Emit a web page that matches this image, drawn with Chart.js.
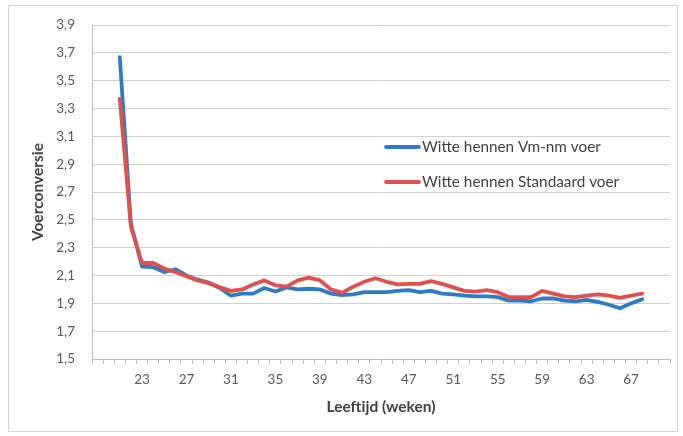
<!DOCTYPE html>
<html>
<head>
<meta charset="utf-8">
<script src="https://cdn.jsdelivr.net/npm/chart.js@4/dist/chart.umd.min.js"></script>
<style>
  html, body { margin: 0; padding: 0; background: #ffffff; }
  #wrap { position: relative; width: 683px; height: 436px; }
  #frame { position: absolute; left: 8px; top: 5px; width: 668px; height: 425px;
           border: 1px solid #d4d4d4; pointer-events: none; }
</style>
</head>
<body>
<div id="wrap">
  <canvas id="c" width="683" height="436"></canvas>
  <div id="frame"></div>
</div>
<script>
// Age in weeks (category axis 19..70)
const weeks = [];
for (let w = 19; w <= 70; w++) weeks.push(String(w));

// Feed conversion, white hens on Vm-nm feed (weeks 21..68)
const vmNmVoer = [
  null, null,
  3.67, 2.47, 2.165, 2.16, 2.125, 2.145, 2.10, 2.07, 2.05, 2.01,
  1.955, 1.97, 1.97, 2.01, 1.985, 2.015, 2.00, 2.005, 2.00, 1.97,
  1.96, 1.965, 1.98, 1.98, 1.98, 1.99, 1.995, 1.98, 1.99, 1.97,
  1.965, 1.955, 1.95, 1.95, 1.945, 1.92, 1.92, 1.915, 1.935, 1.935,
  1.92, 1.915, 1.925, 1.91, 1.89, 1.865, 1.90, 1.93,
  null, null
];

// Feed conversion, white hens on standard feed (weeks 21..68)
const standaardVoer = [
  null, null,
  3.37, 2.45, 2.19, 2.19, 2.15, 2.125, 2.095, 2.065, 2.045, 2.015,
  1.99, 2.00, 2.035, 2.065, 2.03, 2.02, 2.065, 2.085, 2.065, 2.00,
  1.975, 2.02, 2.055, 2.08, 2.055, 2.037, 2.04, 2.04, 2.06, 2.04,
  2.015, 1.99, 1.985, 1.995, 1.98, 1.945, 1.945, 1.945, 1.99, 1.97,
  1.95, 1.945, 1.955, 1.965, 1.955, 1.94, 1.955, 1.97,
  null, null
];

const seriesNames = ['Witte hennen Vm-nm voer', 'Witte hennen Standaard voer'];
const seriesColors = ['#2f7cc4', '#e0504c'];
const labeledWeeks = [23, 27, 31, 35, 39, 43, 47, 51, 55, 59, 63, 67];

const FONT = 'Lato, "Open Sans", sans-serif';

// Legend drawn inside the plot area
const innerLegend = {
  id: 'innerLegend',
  afterDatasetsDraw(chart) {
    const ctx = chart.ctx;
    const rows = [147, 182];
    ctx.save();
    ctx.font = '15.3px ' + FONT;
    ctx.textBaseline = 'middle';
    ctx.textAlign = 'left';
    seriesNames.forEach((name, i) => {
      const y = rows[i];
      ctx.strokeStyle = seriesColors[i];
      ctx.lineWidth = 3.8;
      ctx.lineCap = 'round';
      ctx.beginPath();
      ctx.moveTo(386, y);
      ctx.lineTo(419, y);
      ctx.stroke();
      ctx.fillStyle = '#404040';
      ctx.fillText(name, 422, y + 0.5);
    });
    ctx.restore();
  }
};

new Chart(document.getElementById('c'), {
  type: 'line',
  data: {
    labels: weeks,
    datasets: [
      {
        label: seriesNames[0],
        data: vmNmVoer,
        borderColor: seriesColors[0],
        backgroundColor: seriesColors[0],
        borderWidth: 3.8,
        pointRadius: 0,
        tension: 0,
        borderJoinStyle: 'round',
        borderCapStyle: 'round',
        order: 1
      },
      {
        label: seriesNames[1],
        data: standaardVoer,
        borderColor: seriesColors[1],
        backgroundColor: seriesColors[1],
        borderWidth: 3.8,
        pointRadius: 0,
        tension: 0,
        borderJoinStyle: 'round',
        borderCapStyle: 'round',
        order: 0
      }
    ]
  },
  options: {
    responsive: false,
    animation: false,
    events: [],
    layout: { padding: { left: 0, right: 13, top: 23, bottom: 0 } },
    plugins: {
      legend: { display: false },
      tooltip: { enabled: false }
    },
    scales: {
      x: {
        type: 'category',
        offset: true,
        grid: {
          offset: true,
          drawOnChartArea: false,
          drawTicks: true,
          tickLength: 5,
          color: '#bfbfbf'
        },
        border: { display: true, color: '#bfbfbf' },
        ticks: {
          autoSkip: false,
          maxRotation: 0,
          minRotation: 0,
          padding: 8,
          color: '#595959',
          font: { family: FONT, size: 13.5 },
          callback: function (value) {
            const w = Number(this.getLabelForValue(value));
            return labeledWeeks.includes(w) ? String(w) : '';
          }
        },
        title: {
          display: true,
          text: 'Leeftijd (weken)',
          color: '#404040',
          font: { family: FONT, size: 15.5, weight: 'bold' },
          padding: { top: 0, bottom: 20 }
        },
        afterFit(scale) { scale.height = 77; }
      },
      y: {
        min: 1.5,
        max: 3.9,
        grid: {
          color: '#d0d0d0',
          drawTicks: false
        },
        border: { display: true, color: '#bfbfbf' },
        ticks: {
          stepSize: 0.2,
          padding: 17,
          color: '#595959',
          font: { family: FONT, size: 13.5 },
          callback: (v) => v.toFixed(1).replace('.', ',')
        },
        title: {
          display: true,
          text: 'Voerconversie',
          color: '#404040',
          font: { family: FONT, size: 15.5, weight: 'bold' },
          padding: { top: 29, bottom: 0 }
        },
        afterFit(scale) { scale.width = 92; }
      }
    }
  },
  plugins: [innerLegend]
});
</script>
</body>
</html>
